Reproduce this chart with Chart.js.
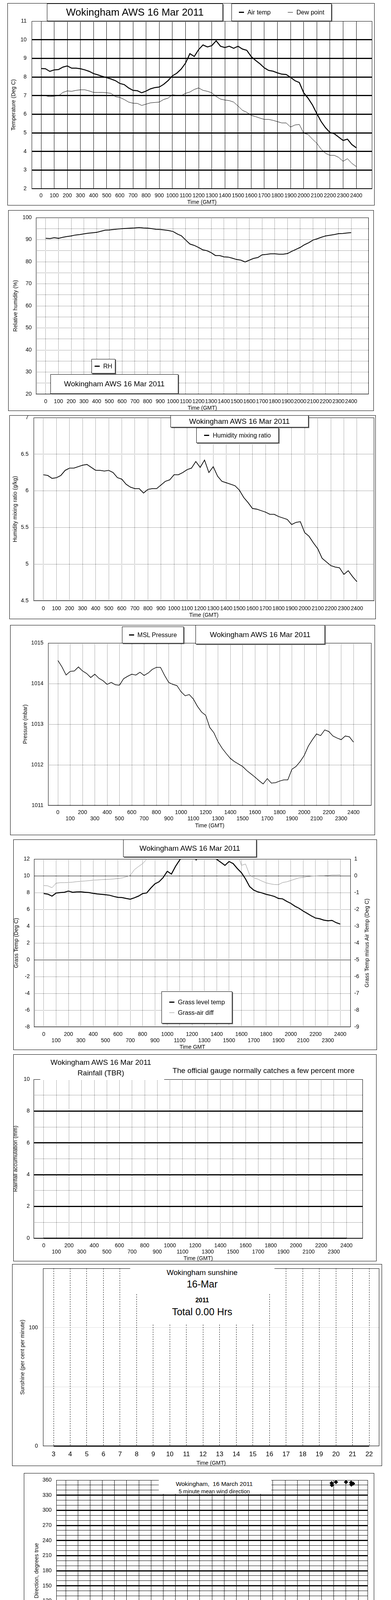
<!DOCTYPE html>
<html>
<head>
<meta charset="utf-8">
<script src="https://cdn.jsdelivr.net/npm/chart.js@4.4.1/dist/chart.umd.min.js"></script>
<style>
  body { margin: 0; background: #fff; }
  #page { position: relative; width: 1000px; height: 5000px; font-family: "Liberation Sans", Arial, sans-serif; color: #000; }
  .panel { position: absolute; }
  .panel canvas { position: absolute; left: 0; top: 0; }
  .edge { position: absolute; left: 0; top: 0; right: 0; bottom: 0; border: 1px solid #000; pointer-events: none; }
  .box { position: absolute; box-sizing: border-box; background: #fff; border: 1px solid #000; box-shadow: 2px 2px 0 #6e6e6e;
         display: flex; align-items: center; justify-content: center; white-space: nowrap; z-index: 5; }
  .txt { position: absolute; transform: translate(-50%, -50%); white-space: nowrap; line-height: 1; z-index: 6; }
  .cover { position: absolute; background: #fff; z-index: 4; }
  .sym { display: inline-block; width: 13px; height: 3px; background: #000; vertical-align: middle; margin-right: 9px; }
  .sym.thin { height: 1px; }
  .row { display: flex; align-items: center; }
</style>
</head>
<body>
<div id="page"></div>
<script>
// ---- data (20 min readings unless noted) ----
const airTemp = [8.45, 8.44, 8.30, 8.38, 8.40, 8.53, 8.59, 8.47, 8.47, 8.44,
  8.38, 8.30, 8.18, 8.11, 8.03, 7.96, 7.89, 7.80, 7.65, 7.59,
  7.41, 7.28, 7.26, 7.15, 7.24, 7.36, 7.43, 7.46, 7.60, 7.80,
  8.06, 8.20, 8.42, 8.74, 9.25, 9.10, 9.47, 9.72, 9.61, 9.68,
  9.94, 9.65, 9.58, 9.65, 9.54, 9.65, 9.50, 9.43, 9.10, 8.89,
  8.71, 8.49, 8.35, 8.31, 8.22, 8.15, 8.13, 7.98, 7.80, 7.70,
  7.15, 6.86, 6.50, 6.03, 5.60, 5.27, 5.02, 4.95, 4.77, 4.59,
  4.66, 4.37, 4.20];
const dewPoint = [7.04, 6.99, 6.94, 6.97, 6.99, 7.17, 7.25, 7.23, 7.28, 7.31,
  7.31, 7.25, 7.17, 7.17, 7.17, 7.15, 7.12, 6.94, 6.90, 6.79,
  6.65, 6.59, 6.58, 6.47, 6.54, 6.61, 6.63, 6.65, 6.79, 6.86,
  7.04, 7.02, 6.99, 7.12, 7.19, 7.33, 7.41, 7.28, 7.23, 7.15,
  6.95, 6.81, 6.76, 6.73, 6.65, 6.44, 6.21, 6.10, 5.94, 5.87,
  5.79, 5.72, 5.72, 5.67, 5.60, 5.53, 5.53, 5.31, 5.42, 5.45,
  4.98, 4.91, 4.66, 4.44, 4.12, 3.90, 3.79, 3.79, 3.68, 3.47,
  3.61, 3.36, 3.19];
const relHum = [90.6, 90.5, 90.9, 90.6, 91.05, 91.4, 91.7, 92.1, 92.3, 92.6,
  92.9, 93.1, 93.3, 93.8, 94.3, 94.4, 94.6, 94.8, 95.0, 95.1,
  95.2, 95.3, 95.5, 95.3, 95.2, 95.0, 94.7, 94.6, 94.4, 94.1,
  93.7, 92.6, 91.7, 89.8, 88.0, 87.4, 86.5, 85.4, 85.0, 84.1,
  82.8, 82.8, 82.2, 82.1, 81.6, 81.0, 80.7, 79.9, 80.7, 81.5,
  81.9, 83.1, 83.3, 83.6, 83.6, 83.4, 83.4, 83.7, 84.7, 85.6,
  86.5, 87.7, 88.6, 89.8, 90.4, 91.1, 91.7, 92.0, 92.3, 92.7,
  92.8, 93.0, 93.2];
const mixRatio = [6.22, 6.21, 6.17, 6.18, 6.21, 6.28, 6.31, 6.31, 6.33, 6.35,
  6.36, 6.32, 6.28, 6.28, 6.27, 6.28, 6.25, 6.18, 6.16, 6.09,
  6.05, 6.03, 6.03, 5.97, 6.02, 6.03, 6.03, 6.08, 6.13, 6.15,
  6.22, 6.22, 6.25, 6.29, 6.31, 6.40, 6.32, 6.42, 6.25, 6.33,
  6.20, 6.13, 6.11, 6.09, 6.07, 6.01, 5.91, 5.84, 5.76, 5.75,
  5.73, 5.71, 5.68, 5.68, 5.65, 5.63, 5.61, 5.54, 5.57, 5.58,
  5.43, 5.38, 5.29, 5.21, 5.08, 5.03, 4.98, 4.96, 4.95, 4.86,
  4.91, 4.83, 4.76];
const pressure = [1014.57, 1014.41, 1014.21, 1014.30, 1014.31, 1014.41, 1014.31, 1014.25, 1014.15, 1014.23,
  1014.13, 1014.07, 1013.98, 1014.03, 1013.97, 1013.96, 1014.12, 1014.18, 1014.23, 1014.21,
  1014.28, 1014.20, 1014.26, 1014.35, 1014.40, 1014.40, 1014.20, 1014.03, 1013.98, 1013.95,
  1013.80, 1013.70, 1013.73, 1013.62, 1013.44, 1013.30, 1013.22, 1012.92, 1012.79, 1012.57,
  1012.41, 1012.28, 1012.16, 1012.08, 1012.02, 1011.96, 1011.86, 1011.78, 1011.70, 1011.61,
  1011.53, 1011.66, 1011.55, 1011.56, 1011.60, 1011.63, 1011.63, 1011.89, 1011.96, 1012.08,
  1012.23, 1012.46, 1012.62, 1012.76, 1012.72, 1012.86, 1012.82, 1012.71, 1012.66, 1012.62,
  1012.71, 1012.69, 1012.56];
const grassTemp = [7.88, 7.81, 7.58, 7.94, 8.00, 8.04, 8.18, 8.04, 8.08, 8.09,
  8.04, 8.00, 7.91, 7.84, 7.79, 7.74, 7.68, 7.54, 7.43, 7.41,
  7.30, 7.21, 7.38, 7.58, 7.88, 7.96, 8.54, 9.04, 9.29, 9.79,
  10.54, 10.20, 11.12, 11.87, 12.5, 13.0, 13.2, 11.9, 12.8, 13.2,
  13.0, 12.6, 11.95, 11.6, 11.24, 11.7, 11.45, 10.87, 10.37, 9.62,
  8.71, 8.29, 8.08, 7.96, 7.79, 7.68, 7.54, 7.30, 7.25, 6.96,
  6.71, 6.38, 6.13, 5.80, 5.52, 5.22, 4.97, 4.88, 4.72, 4.64,
  4.69, 4.42, 4.25];
const grassDiff = [-0.58, -0.60, -0.71, -0.44, -0.41, -0.41, -0.40, -0.38, -0.35, -0.33,
  -0.31, -0.29, -0.26, -0.25, -0.23, -0.22, -0.21, -0.19, -0.16, -0.13,
  -0.06, 0.02, 0.36, 0.55, 0.72, 0.98, 1.3, 1.6, 2.0, 2.4,
  2.6, 2.7, 2.8, 3.0, 3.2, 3.4, 3.5, 3.3, 3.4, 3.5,
  3.2, 3.0, 2.6, 2.2, 1.8, 1.9, 1.6, 1.4, 0.62, 0.70,
  0.05, -0.12, -0.20, -0.32, -0.42, -0.48, -0.52, -0.53, -0.40, -0.36,
  -0.28, -0.20, -0.12, -0.10, -0.05, -0.02, -0.01, 0.00, 0.00, 0.02,
  0.05, 0.05, 0.06];
const rainHours = [0, 1, 2, 3, 4, 5, 6, 7, 8, 9, 10, 11, 12, 13, 14, 15, 16, 17, 18, 19, 20, 21, 22, 23, 24];
const rainTotal = [0, 0, 0, 0, 0, 0, 0, 0, 0, 0, 0, 0, 0, 0, 0, 0, 0, 0, 0, 0, 0, 0, 0, 0, 0];
const sunHours = [3, 4, 5, 6, 7, 8, 9, 10, 11, 12, 13, 14, 15, 16, 17, 18, 19, 20, 21, 22];
const sunPercent = [0, 0, 0, 0, 0, 0, 0, 0, 0, 0, 0, 0, 0, 0, 0, 0, 0, 0, 0, 0];
// wind direction, every 10 min
const windDir = [28, 16, 10, 3, 12, 10, 14, 22, 28, 35, 36, 37,
  33, 28, 25, 27, 17, 33, 30, 34, 29, 33, 26, 17,
  10, 18, 20, 16, 16, 18, 19, 28, 33, 26, 22, 17,
  37, 30, 32, 28, 31, 16, 29, 29, 32, 31, 26, 38,
  34, 35, 35, 27, 28, 22, 19, 23, 28, 17, 10, 16,
  18, 10, 22, 19, 15, 25, 19, 26, 25, 28, 23, 31,
  23, 25, 22, 26, 32, 28, 23, 31, 41, 9, 25, 32,
  17, 28, 16, 34, 23, 19, 10, 9, 19, 26, 28, 28,
  12, 3, 22, 15, 4, 8, 18, 9, 25, 16, 12, 4,
  13, 3, 20, 26, 31, 25, 18, 12, 26, 38, 31, 32,
  22, 15, 19, 25, 19, 23, 25, 23, 25, 10, 3, 9,
  9, 3, 7, 7, 9, 6, 0, 16, 26, 27, 31, 20,
  7];
const windDirNorthHours = [21.82, 21.84, 22.18, 23.0, 23.42, 23.44, 23.58];
const windDirNorth = [354, 350, 356, 356, 355, 351, 353];
// wind speed: 10 min mean every 20 min, gust every 10 min
const windMean = [3.46, 3.8, 3.46, 3.2, 4.5, 5.0, 6.0, 7.0, 6.5, 7.3,
  7.8, 7.8, 6.3, 5.0, 5.8, 7.3, 9.1, 8.6, 6.3, 7.3,
  6.8, 8.8, 7.8, 6.3, 8.3, 9.1, 8.3, 7.5, 7.3, 6.8,
  7.3, 7.8, 6.8, 7.0, 6.3, 7.5, 6.8, 8.3, 9.3, 8.8,
  7.8, 7.3, 5.8, 6.3, 5.2, 6.3, 7.0, 7.8, 7.3, 6.3,
  6.8, 7.0, 7.8, 5.2, 5.8, 6.3, 5.5, 5.8, 6.3, 7.0,
  7.3, 6.8, 6.5, 7.0, 6.3, 5.0, 4.5, 5.2, 5.2, 5.8,
  6.0, 5.5, 4.7];
const windGust = [5.8, 4.3, 6.3, 4.5, 5.8, 4.2, 6.5, 4.5, 9.8, 6.5, 8.5, 5.8,
  10.8, 7.0, 11.0, 7.5, 12.2, 6.5, 11.5, 8.0, 12.3, 7.5, 11.0, 8.0,
  9.5, 6.5, 10.5, 6.0, 10.0, 7.0, 12.5, 9.0, 14.2, 9.5, 12.5, 8.0,
  10.5, 6.5, 11.5, 8.0, 12.0, 7.5, 13.8, 9.0, 12.0, 8.5, 11.0, 4.0,
  12.5, 8.5, 14.3, 9.0, 13.0, 8.0, 11.5, 7.5, 11.0, 8.5, 10.5, 7.0,
  11.0, 8.0, 12.0, 7.0, 10.5, 6.0, 9.5, 7.0, 11.5, 7.5, 12.0, 8.0,
  11.0, 8.5, 13.0, 9.0, 13.8, 9.5, 12.5, 8.5, 11.0, 7.0, 10.5, 6.0,
  10.0, 6.5, 10.5, 5.5, 9.5, 6.5, 11.0, 8.0, 11.5, 8.0, 12.5, 9.0,
  14.8, 6.0, 12.0, 8.0, 13.0, 7.5, 13.0, 8.0, 11.0, 7.5, 9.5, 5.0,
  10.0, 6.5, 12.5, 7.0, 11.0, 6.0, 10.0, 6.5, 11.0, 7.5, 11.5, 8.0,
  10.5, 7.5, 10.0, 7.0, 10.5, 6.5, 10.0, 7.0, 10.5, 6.0, 9.0, 5.0,
  9.0, 5.5, 9.5, 6.0, 9.8, 6.5, 9.0, 6.0, 9.5, 6.5, 8.0, 7.5,
  5.5];
// speeds below 5 kt, plotted x10
const lowSpeedHours = [0.0, 0.04, 0.06, 0.1, 0.16, 0.22, 0.3, 0.36, 0.4, 0.46, 0.52, 0.56, 0.58, 0.66, 0.73, 0.79,
  0.83, 0.91, 0.97, 1.03, 1.07, 1.11, 1.17, 1.21, 1.25, 1.27, 1.27, 1.61, 1.63, 1.61, 1.77, 1.87,
  4.25, 4.25, 4.25, 14.1, 14.6, 14.6, 17.75, 17.89, 17.79, 17.75, 17.85, 17.95, 17.95, 17.85,
  19.14, 19.14, 21.51, 22.14, 22.22, 22.32, 22.02, 22.26, 22.12, 22.32, 22.02, 22.02, 22.06, 22.06,
  22.82, 22.82, 22.82, 22.82, 23.99, 23.99];
const lowSpeedX10 = [35.8, 36.4, 38.4, 39.6, 40.9, 38.9, 40.1, 42.7, 41.4, 38.9, 36.8, 32.8, 34.0, 35.8, 37.6, 38.4,
  35.3, 37.3, 32.2, 32.0, 33.8, 35.0, 35.8, 37.7, 42.0, 45.1, 48.9, 46.1, 47.8, 49.5, 49.7, 48.8,
  49.5, 48.6, 47.5, 49.5, 49.3, 48.0, 49.8, 49.0, 48.2, 47.4, 46.8, 46.1, 44.6, 43.2,
  49.5, 48.4, 49.3, 49.7, 48.8, 49.5, 48.2, 47.8, 47.2, 47.1, 45.1, 44.0, 41.7, 39.8,
  49.5, 48.4, 47.4, 46.5, 47.1, 46.7];

const hourTicks = [0, 1, 2, 3, 4, 5, 6, 7, 8, 9, 10, 11, 12, 13, 14, 15, 16, 17, 18, 19, 20, 21, 22, 23, 24];

// ---- helpers ----
const SANS = '"Liberation Sans", Arial, sans-serif';
const NARROW = '"Liberation Sans Narrow", "Liberation Sans", Arial, sans-serif';
const DOT = [1, 2];
Chart.defaults.font.family = NARROW;
Chart.defaults.font.size = 14;
Chart.defaults.color = '#000';

const page = document.getElementById('page');

function series(vals, stepMin) { return vals.map((v, i) => ({x: i * stepMin / 60, y: v})); }
function pairs(xs, ys) { return xs.map((x, i) => ({x: x, y: ys[i]})); }
function tickVal(c) { return c.tick ? c.tick.value : null; }
function steps(a, b, s) { const out = []; for (let v = a; v <= b + 1e-9; v += s) out.push(Math.round(v * 100) / 100); return out; }

Chart.register({
  id: 'frame',
  beforeDatasetsDraw(chart) {
    const {ctx, chartArea: a} = chart;
    ctx.save();
    ctx.strokeStyle = '#000';
    ctx.lineWidth = 1;
    ctx.strokeRect(Math.round(a.left) + 0.5, Math.round(a.top) + 0.5, Math.round(a.right - a.left) - 1, Math.round(a.bottom - a.top) - 1);
    ctx.restore();
  }
});

function addBox(x, y, w, h, html, css) {
  const d = document.createElement('div');
  d.className = 'box';
  d.style.cssText = `left:${x}px;top:${y}px;width:${w}px;height:${h}px;` + (css || '');
  d.innerHTML = html;
  page.appendChild(d);
}
function addText(x, y, text, css) {
  const d = document.createElement('div');
  d.className = 'txt';
  d.style.cssText = `left:${x}px;top:${y}px;` + (css || '');
  d.textContent = text;
  page.appendChild(d);
}
function addCover(x, y, w, h) {
  const d = document.createElement('div');
  d.className = 'cover';
  d.style.cssText = `left:${x}px;top:${y}px;width:${w}px;height:${h}px;`;
  page.appendChild(d);
}

function panel(p) {
  const [bx, by, bw, bh] = p.box;
  const [pl, pt, pr, pb] = p.plot;
  const wrap = document.createElement('div');
  wrap.className = 'panel';
  wrap.style.cssText = `left:${bx}px;top:${by}px;width:${bw}px;height:${bh}px;`;
  const cv = document.createElement('canvas');
  cv.width = bw; cv.height = bh;
  cv.style.width = bw + 'px'; cv.style.height = bh + 'px';
  wrap.appendChild(cv);
  const edge = document.createElement('div');
  edge.className = 'edge';
  wrap.appendChild(edge);
  page.appendChild(wrap);

  const L = pl - bx, T = pt - by, R = bx + bw - pr, B = by + bh - pb;
  const scales = {
    x: {
      type: 'linear', min: p.x.min, max: p.x.max,
      afterFit: s => { s.height = B; },
      afterBuildTicks: s => { s.ticks = p.x.ticks.map(v => ({value: v})); },
      ticks: {autoSkip: false, maxRotation: 0, minRotation: 0, padding: p.x.pad,
              font: p.x.font || {size: 14, lineHeight: 1.15}, callback: p.x.label},
      grid: {drawTicks: false, color: p.x.gridColor || '#000', lineWidth: 1},
      border: {display: false, dash: p.x.dash || DOT},
      title: {display: true, text: p.x.title, font: {family: SANS, size: 14}, padding: {top: 0, bottom: p.x.titlePad}}
    },
    y: {
      type: 'linear', position: 'left', min: p.y.min, max: p.y.max,
      afterFit: s => { s.width = L; },
      afterBuildTicks: s => { s.ticks = p.y.ticks.map(v => ({value: v})); },
      ticks: {autoSkip: false, padding: 0, font: {size: 14, lineHeight: 0.8}, callback: p.y.label},
      grid: {drawTicks: true, tickLength: p.y.gap, tickColor: 'rgba(0,0,0,0)',
             color: p.y.gridColor || '#000', lineWidth: p.y.width || 1},
      border: {display: false, dash: p.y.dash || DOT},
      title: {display: true, text: p.y.title, font: {family: SANS, size: 14}, padding: {top: p.y.titlePad, bottom: 0}}
    }
  };
  if (p.y2) {
    scales.y2 = {
      type: 'linear', position: 'right', min: p.y2.min, max: p.y2.max,
      afterFit: s => { s.width = R; },
      afterBuildTicks: s => { s.ticks = p.y2.ticks.map(v => ({value: v})); },
      ticks: {autoSkip: false, padding: 0, font: {size: 14, lineHeight: 0.8}, callback: v => String(v)},
      grid: {drawOnChartArea: false, drawTicks: true, tickLength: p.y2.gap, tickColor: 'rgba(0,0,0,0)'},
      border: {display: false},
      title: {display: false}
    };
  }
  new Chart(cv, {
    type: 'line',
    data: {datasets: p.datasets},
    options: {
      responsive: false, animation: false, devicePixelRatio: 1, events: [],
      layout: {padding: {left: 0, top: T, right: p.y2 ? 0 : R, bottom: 0}},
      plugins: {legend: {display: false}, tooltip: {enabled: false}},
      elements: {point: {radius: 0}, line: {tension: 0}},
      scales: scales
    }
  });
}

const hundreds = v => String(v * 100);
const hundredsTwoRows = v => (v % 2 === 0 ? String(v * 100) : ['', String(v * 100)]);
const line = (data, width, color, extra) => Object.assign({data: data, borderColor: color || '#000', borderWidth: width, pointRadius: 0}, extra || {});

// ---- 1: air temperature / dew point ----
panel({
  box: [19, 8, 939, 518], plot: [81, 54, 952, 483],
  x: {min: -0.715, max: 25.22, ticks: hourTicks, label: hundreds, pad: 10, title: 'Time (GMT)', titlePad: -0.4, dash: []},
  y: {min: 2, max: 11, ticks: steps(2, 11, 1), label: v => String(v), gap: 13, title: 'Temperature (Deg C)', titlePad: 7.6,
      dash: [], width: c => { const v = tickVal(c); return v > 2 && v < 11 ? 3 : 1; }},
  datasets: [line(series(airTemp, 20), 2.5), line(series(dewPoint, 20), 1)]
});
addBox(120, 9, 450, 45, 'Wokingham AWS 16 Mar 2011', 'font-size:26px;');
addBox(592, 9, 256, 45, '<span class="sym"></span>Air temp<span style="display:inline-block;width:44px"></span><span class="sym thin"></span>Dew point', 'font-size:16px;');

// ---- 2: relative humidity ----
panel({
  box: [21, 538, 935, 514], plot: [92, 557, 943, 1009],
  x: {min: -0.768, max: 25.38, ticks: hourTicks, label: hundreds, pad: 11, title: 'Time (GMT)', titlePad: -1.4},
  y: {min: 20, max: 100, ticks: steps(20, 100, 5), label: v => (v % 10 === 0 ? String(v) : ''), gap: 11, title: 'Relative humidity (%)', titlePad: 10.6},
  datasets: [line(series(relHum, 20), 2)]
});
addBox(234, 919, 61, 37, '<span class="sym"></span>RH', 'font-size:16px;');
addBox(129, 958, 327, 50, 'Wokingham AWS 16 Mar 2011', 'font-size:19px;');

// ---- 3: humidity mixing ratio ----
panel({
  box: [24, 1063, 937, 522], plot: [86, 1069, 957, 1538],
  x: {min: -0.748, max: 25.32, ticks: hourTicks, label: hundreds, pad: 12, title: 'Time (GMT)', titlePad: 1.6},
  y: {min: 4.5, max: 7, ticks: steps(4.5, 7, 0.5), label: v => String(v), gap: 13, title: 'Humidity mixing ratio (g/kg)', titlePad: 6.6},
  datasets: [line(series(mixRatio, 20), 1.8)]
});
addBox(436, 1063, 353, 31, 'Wokingham AWS 16 Mar 2011', 'font-size:19px;');
addBox(502, 1095, 211, 39, '<span class="sym"></span>Humidity mixing ratio', 'font-size:16px;');

// ---- 4: MSL pressure ----
panel({
  box: [26, 1600, 933, 538], plot: [123, 1646, 950, 2062],
  x: {min: -0.794, max: 25.46, ticks: hourTicks, label: hundredsTwoRows, pad: 10, title: 'Time (GMT)', titlePad: 15.6},
  y: {min: 1011, max: 1015, ticks: steps(1011, 1015, 1), label: v => String(v), gap: 12, title: 'Pressure (mbar)', titlePad: 30.6},
  datasets: [line(series(pressure, 20), 1.5)]
});
addBox(312, 1604, 158, 43, '<span class="sym"></span>MSL Pressure', 'font-size:16px;');
addBox(500, 1600, 331, 49, 'Wokingham AWS 16 Mar 2011', 'font-size:19px;');

// ---- 5: grass temperature ----
panel({
  box: [34, 2149, 930, 539], plot: [87, 2199, 897, 2629],
  x: {min: -0.79, max: 24.85, ticks: hourTicks, label: hundredsTwoRows, pad: 11, title: 'Time GMT', titlePad: -1.4},
  y: {min: -8, max: 12, ticks: steps(-8, 12, 2), label: v => String(v), gap: 11, title: 'Grass Temp (Deg C)', titlePad: -0.4,
      dash: c => { const v = tickVal(c); return v === 0 || v === 10 ? [] : DOT; }},
  y2: {min: -9, max: 1, ticks: steps(-9, 1, 1), gap: 9},
  datasets: [line(series(grassTemp, 20), 2.5), line(series(grassDiff, 20), 1, '#8a8a8a', {yAxisID: 'y2'})]
});
addText(938, 2414, 'Grass Temp minus Air Temp (Deg C)', 'font-size:14px;transform:translate(-50%,-50%) rotate(-90deg);');
addBox(315, 2149, 341, 45, 'Wokingham AWS 16 Mar 2011', 'font-size:19px;');
addBox(413, 2538, 181, 82,
  '<div><div class="row" style="margin-bottom:9px"><span class="sym"></span>Grass level temp</div>' +
  '<div class="row"><span class="sym thin" style="background:#8a8a8a"></span>Grass-air diff</div></div>',
  'font-size:16px;justify-content:flex-start;padding-left:19px;');

// ---- 6: rainfall ----
panel({
  box: [34, 2699, 929, 530], plot: [86, 2763, 928, 3170],
  x: {min: -0.806, max: 25.3, ticks: hourTicks, label: hundredsTwoRows, pad: 11, title: 'Time (GMT)', titlePad: -1.4},
  y: {min: 0, max: 10, ticks: steps(0, 10, 1), label: v => (v % 2 === 0 ? String(v) : ''), gap: 10, title: 'Rainfall accumulation (mm)', titlePad: -2.4,
      dash: c => { const v = tickVal(c); return v % 2 === 0 ? [] : DOT; },
      width: c => { const v = tickVal(c); return v % 2 === 0 && v > 0 && v < 10 ? 3 : 1; }},
  datasets: [line(pairs(rainHours, rainTotal), 3, '#000', {clip: 4})]
});
addCover(103, 2761, 317, 4);
addText(258, 2719, 'Wokingham AWS 16 Mar 2011', 'font-size:19px;');
addText(258, 2746, 'Rainfall (TBR)', 'font-size:19px;');
addText(674, 2740, 'The official gauge normally catches a few percent more', 'font-size:19px;');

// ---- 7: sunshine ----
panel({
  box: [31, 3236, 946, 517], plot: [110, 3247, 970, 3702],
  x: {min: 2.364, max: 22.61, ticks: sunHours, label: v => String(v), pad: 12, font: {family: SANS, size: 17, lineHeight: 1.15},
      title: 'Time (GMT)', titlePad: -1.4, dash: [3, 3]},
  y: {min: 0, max: 150, ticks: [0, 50, 100, 150], label: v => (v === 0 || v === 100 ? String(v) : ''), gap: 13,
      title: 'Sunshine (per cent per minute)', titlePad: 18.6, gridColor: '#9a9a9a'},
  datasets: [line(pairs(sunHours, sunPercent), 3, '#000', {clip: 4})]
});
addCover(333, 3244, 369, 68);
addCover(358, 3312, 322, 77);
addText(517, 3257, 'Wokingham sunshine', 'font-size:19px;');
addText(517, 3287, '16-Mar', 'font-size:25px;');
addText(517, 3329, '2011', 'font-size:16px;font-weight:bold;');
addText(517, 3358, 'Total 0.00 Hrs', 'font-size:25px;');

// ---- 8: wind direction ----
const diamond = (data, fill, edgeCol) => ({data: data, showLine: false, pointStyle: 'rectRot', pointRadius: 5,
  pointBackgroundColor: fill, pointBorderColor: edgeCol, pointBorderWidth: 1});
panel({
  box: [61, 3771, 896, 532], plot: [144, 3789, 941, 4253],
  x: {min: -0.77, max: 24.8, ticks: hourTicks, label: v => String(v), pad: 11, title: 'Time (GMT)', titlePad: 4.6, dash: []},
  y: {min: 0, max: 360, ticks: steps(0, 360, 10), label: v => (v % 30 === 0 ? String(v) : ''), gap: 12,
      title: 'Direction, degrees true', titlePad: 24.6, dash: [],
      width: c => { const v = tickVal(c); return v % 30 === 0 && v > 0 && v < 360 ? 3 : 1; }},
  datasets: [diamond(series(windDir, 10), '#000', '#000'), diamond(pairs(windDirNorthHours, windDirNorth), '#000', '#000')]
});
addCover(406, 3786, 288, 38);
addText(548, 3799, 'Wokingham,  16 March 2011', 'font-size:15.5px;white-space:pre;');
addText(548, 3818, '5 minute mean wind direction', 'font-size:14px;');

// ---- 9: wind speed ----
const hhmm = v => (v < 10 ? '0' : '') + v + ':00';
panel({
  box: [58, 4313, 898, 515], plot: [116, 4357, 938, 4753],
  x: {min: -0.748, max: 24.87, ticks: hourTicks, pad: 11, title: 'Time (GMT)', titlePad: 14.6,
      label: v => (v >= 24 ? '' : (v % 2 === 0 ? hhmm(v) : ['', hhmm(v)]))},
  y: {min: 0, max: 50, ticks: steps(0, 50, 5), label: v => (v % 10 === 0 ? String(v) : ''), gap: 11, title: 'Speed (knots)', titlePad: 5.6},
  datasets: [
    diamond(pairs(lowSpeedHours, lowSpeedX10), '#c4c4c4', '#3a3a3a'),
    line(series(windMean, 20), 2),
    line(series(windGust, 10), 1, '#505050')
  ]
});
addCover(118, 4354, 332, 5);
addText(282, 4337, 'Wokingham,  16 March 2011', 'font-size:18px;white-space:pre;');
addText(585, 4325, 'Wind speed, 10 min mean / max gust', 'font-size:14px;');
addText(585, 4341, 'Speeds below 5 kt shown at x10 scale', 'font-size:14px;');
addBox(734, 4319, 218, 30,
  '<span class="sym" style="width:10px"></span>Speed x 1<span style="display:inline-block;width:22px"></span>' +
  '<span style="display:inline-block;width:6px;height:6px;background:#c4c4c4;border:1px solid #3a3a3a;transform:rotate(45deg);margin-right:7px"></span>Speed / 10',
  'font-size:12px;font-family:' + NARROW + ';');
addText(951, 4753, '0', 'font-size:12px;font-weight:bold;');
</script>
</body>
</html>
